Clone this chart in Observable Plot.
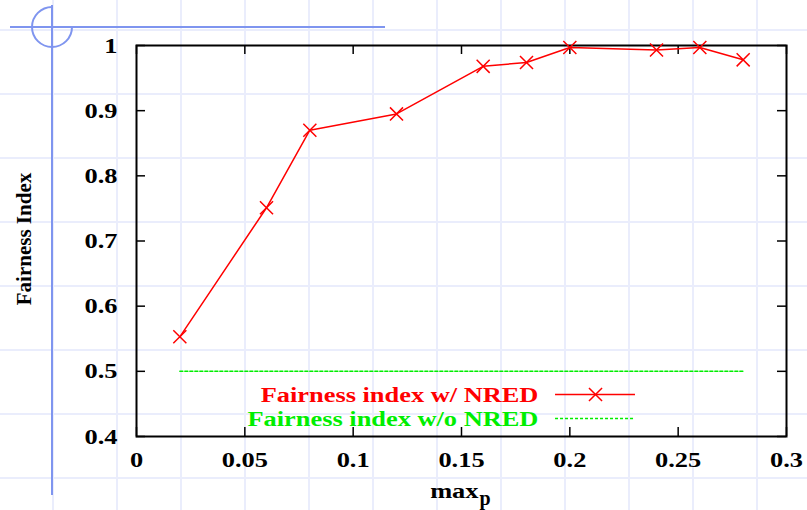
<!DOCTYPE html>
<html>
<head>
<meta charset="utf-8">
<script src="https://cdn.jsdelivr.net/npm/d3@7"></script>
<script src="https://cdn.jsdelivr.net/npm/@observablehq/plot@0.6"></script>
<style>
  html, body { margin: 0; padding: 0; background: #fff; }
  #chart {
    position: relative;
    width: 807px;
    height: 510px;
    overflow: hidden;
    background-color: #fff;
    /* graph-paper background */
    background-image:
      linear-gradient(to right, #eaedfc 2px, transparent 2px),
      linear-gradient(to bottom, #eaedfc 2px, transparent 2px);
    background-size: 64px 64px;
    background-position: 52px 29px;
  }
  #chart svg { position: absolute; left: 0; top: 0; }
</style>
</head>
<body>
<div id="chart">
  <svg id="mark" width="807" height="510">
    <g fill="none" stroke="#7f95ef" stroke-width="2">
      <line x1="10" y1="27" x2="385" y2="27"></line>
      <line x1="52" y1="5" x2="52" y2="495"></line>
      <path d="M52,7 A20,20 0 1,0 72,27"></path>
    </g>
  </svg>
</div>
<script>
// max_p settings and the fairness index measured at each
const maxP = [0.02, 0.06, 0.08, 0.12, 0.16, 0.18, 0.20, 0.24, 0.26, 0.28];
const fairnessWithNred = [0.553, 0.751, 0.870, 0.895, 0.968, 0.974, 0.997, 0.993, 0.997, 0.978];
const fairnessWithoutNred = [0.5, 0.5, 0.5, 0.5, 0.5, 0.5, 0.5, 0.5, 0.5, 0.5];

// axis ticks and their labels
const xTicks = [0, 0.05, 0.1, 0.15, 0.2, 0.25, 0.3];
const xTickLabels = ["0", "0.05", "0.1", "0.15", "0.2", "0.25", "0.3"];
const yTicks = [0.4, 0.5, 0.6, 0.7, 0.8, 0.9, 1];
const yTickLabels = ["0.4", "0.5", "0.6", "0.7", "0.8", "0.9", "1"];

// legend entries
const seriesNames = ["Fairness index w/ NRED", "Fairness index w/o NRED"];
const seriesColors = ["#ff0000", "#00ee00"];

const withNred = maxP.map((x, i) => ({x, y: fairnessWithNred[i]}));
const withoutNred = maxP.map((x, i) => ({x, y: fairnessWithoutNred[i]}));
const xLabelOf = new Map(xTicks.map((t, i) => [t, xTickLabels[i]]));
const yLabelOf = new Map(yTicks.map((t, i) => [t, yTickLabels[i]]));

const W = 807, H = 510;
const mL = 136, mR = 21, mT = 45, mB = 74;
const innerW = W - mL - mR, innerH = H - mT - mB;
const tickLen = 9;

// legend placement (in data units, inside the frame)
const legTextX = 0.1855;
const legLineX1 = 0.1934, legLineX2 = 0.2303;
const legY = [0.4644, 0.4276];
const legendRows = seriesNames.map((name, i) => ({name, color: seriesColors[i], y: legY[i]}));

const font = "Liberation Serif";
const txt = {fontFamily: font, fontWeight: "bold", fontSize: 22};

const chart = Plot.plot({
  width: W,
  height: H,
  marginLeft: mL,
  marginRight: mR,
  marginTop: mT,
  marginBottom: mB,
  x: {domain: [0, 0.3]},
  y: {domain: [0.4, 1]},
  style: {background: "transparent", fontFamily: font, fontWeight: "bold", fontSize: "22px", color: "#000"},
  marks: [
    // inward tick marks on all four sides
    Plot.tickX(xTicks, {x: d => d, insetTop: innerH - tickLen, stroke: "#000", strokeWidth: 1.5}),
    Plot.tickX(xTicks, {x: d => d, insetBottom: innerH - tickLen, stroke: "#000", strokeWidth: 1.5}),
    Plot.tickY(yTicks, {y: d => d, insetRight: innerW - tickLen, stroke: "#000", strokeWidth: 1.5}),
    Plot.tickY(yTicks, {y: d => d, insetLeft: innerW - tickLen, stroke: "#000", strokeWidth: 1.5}),
    Plot.axisX(xTicks, {anchor: "bottom", tickSize: 0, tickPadding: 15, tickFormat: d => xLabelOf.get(d), label: null, ...txt}),
    Plot.axisY(yTicks, {anchor: "left", tickSize: 0, tickPadding: 19, tickFormat: d => yLabelOf.get(d), label: null, ...txt}),
    Plot.frame({stroke: "#000", strokeWidth: 2}),

    // series
    Plot.line(withoutNred, {x: "x", y: "y", stroke: seriesColors[1], strokeWidth: 1.5, strokeDasharray: "3,2"}),
    Plot.line(withNred, {x: "x", y: "y", stroke: seriesColors[0], strokeWidth: 1.5}),
    Plot.dot(withNred, {x: "x", y: "y", symbol: "times", r: 6, stroke: seriesColors[0], strokeWidth: 1.5}),

    // legend
    Plot.text(legendRows, {x: () => legTextX, y: "y", text: "name", fill: "color", textAnchor: "end", ...txt}),
    Plot.ruleY(legendRows.slice(0, 1), {y: "y", x1: () => legLineX1, x2: () => legLineX2, stroke: "color", strokeWidth: 1.5}),
    Plot.dot(legendRows.slice(0, 1), {x: () => (legLineX1 + legLineX2) / 2, y: "y", symbol: "times", r: 6, stroke: "color", strokeWidth: 1.5}),
    Plot.ruleY(legendRows.slice(1, 2), {y: "y", x1: () => legLineX1, x2: () => legLineX2, stroke: "color", strokeWidth: 1.5, strokeDasharray: "3,2"}),

    // axis titles
    Plot.text(["Fairness Index"], {frameAnchor: "left", dx: -112, dy: -2, rotate: -90, textAnchor: "middle", ...txt, fontSize: 21}),
    Plot.text(["max"], {frameAnchor: "bottom", dx: 17, dy: 61, textAnchor: "end", lineAnchor: "bottom", ...txt}),
    Plot.text(["p"], {frameAnchor: "bottom", dx: 18, dy: 68, textAnchor: "start", lineAnchor: "bottom", ...txt, fontSize: 20})
  ]
});

// the labels are set in a wide bold face: stretch them horizontally about their anchor
d3.select(chart).selectAll("text")
  .filter(function() { return this.textContent !== "Fairness Index" && this.textContent !== "p"; })
  .each(function() {
    const t = this.getAttribute("transform") || "";
    this.setAttribute("transform", `${t} scale(1.2,1)`.trim());
  });

document.getElementById("chart").appendChild(chart);
</script>
</body>
</html>
